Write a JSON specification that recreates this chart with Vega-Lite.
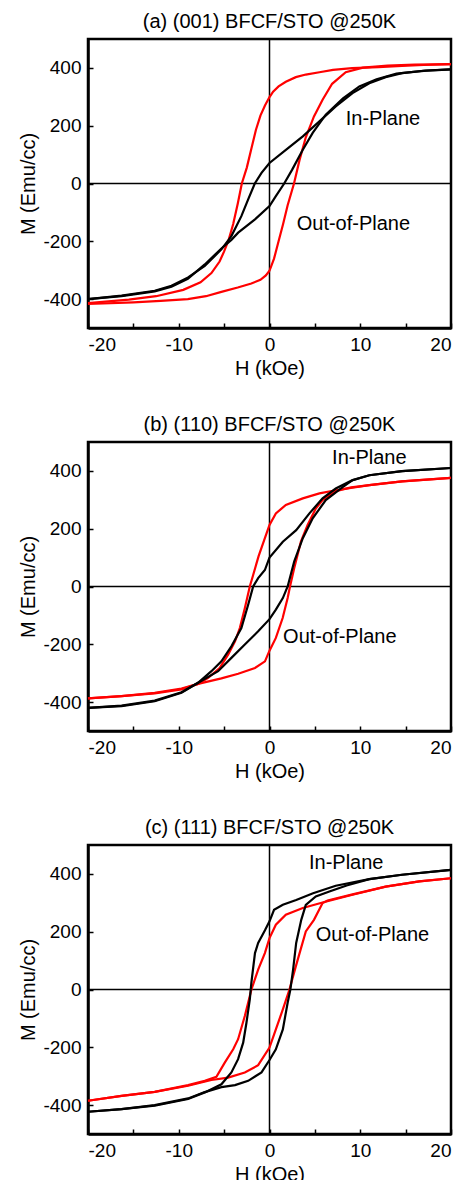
{
  "$schema": "https://vega.github.io/schema/vega-lite/v6.json",
  "background": "white",
  "padding": {"left": 17, "top": 11, "right": 5, "bottom": 0},
  "config": {
    "font": "Liberation Sans",
    "view": {"stroke": "black", "strokeWidth": 2.5},
    "axis": {
      "domainColor": "black", "domainWidth": 2.5,
      "tickColor": "black", "tickWidth": 1.5, "tickSize": -5,
      "labelFontSize": 19, "labelColor": "black", "labelPadding": 12,
      "titleFontSize": 20, "titleFontWeight": "normal", "titleColor": "black",
      "grid": false
    },
    "title": {"fontSize": 20, "fontWeight": "normal", "color": "black", "offset": 6},
    "concat": {"spacing": 34}
  },
  "datasets": {
    "a": [
      {"s":"OOP","b":"d","H":20,"M":413},{"s":"OOP","b":"d","H":17,"M":410},{"s":"OOP","b":"d","H":14.6,"M":407},{"s":"OOP","b":"d","H":12,"M":403},{"s":"OOP","b":"d","H":9.1,"M":399},{"s":"OOP","b":"d","H":7,"M":393},{"s":"OOP","b":"d","H":5.5,"M":385},{"s":"OOP","b":"d","H":4,"M":377},{"s":"OOP","b":"d","H":2.9,"M":368},{"s":"OOP","b":"d","H":1.8,"M":352},{"s":"OOP","b":"d","H":1,"M":336},{"s":"OOP","b":"d","H":0.4,"M":318},{"s":"OOP","b":"d","H":0,"M":299},{"s":"OOP","b":"d","H":-0.5,"M":270},{"s":"OOP","b":"d","H":-1,"M":235},{"s":"OOP","b":"d","H":-1.5,"M":185},{"s":"OOP","b":"d","H":-2,"M":120},{"s":"OOP","b":"d","H":-2.5,"M":55},{"s":"OOP","b":"d","H":-3.05,"M":0},{"s":"OOP","b":"d","H":-3.5,"M":-70},{"s":"OOP","b":"d","H":-4,"M":-140},{"s":"OOP","b":"d","H":-4.5,"M":-195},{"s":"OOP","b":"d","H":-5,"M":-235},{"s":"OOP","b":"d","H":-5.5,"M":-270},{"s":"OOP","b":"d","H":-6.4,"M":-310},{"s":"OOP","b":"d","H":-7.6,"M":-342},{"s":"OOP","b":"d","H":-9.5,"M":-368},{"s":"OOP","b":"d","H":-12.5,"M":-390},{"s":"OOP","b":"d","H":-15.5,"M":-402},{"s":"OOP","b":"d","H":-20,"M":-414},
      {"s":"OOP","b":"u","H":-20,"M":-417},{"s":"OOP","b":"u","H":-15,"M":-411},{"s":"OOP","b":"u","H":-12,"M":-406},{"s":"OOP","b":"u","H":-9,"M":-400},{"s":"OOP","b":"u","H":-7,"M":-390},{"s":"OOP","b":"u","H":-5.3,"M":-375},{"s":"OOP","b":"u","H":-3.5,"M":-360},{"s":"OOP","b":"u","H":-2,"M":-346},{"s":"OOP","b":"u","H":-1,"M":-333},{"s":"OOP","b":"u","H":-0.4,"M":-318},{"s":"OOP","b":"u","H":0,"M":-302},{"s":"OOP","b":"u","H":0.5,"M":-260},{"s":"OOP","b":"u","H":1,"M":-200},{"s":"OOP","b":"u","H":1.5,"M":-140},{"s":"OOP","b":"u","H":2,"M":-75},{"s":"OOP","b":"u","H":2.7,"M":0},{"s":"OOP","b":"u","H":3.3,"M":80},{"s":"OOP","b":"u","H":4,"M":160},{"s":"OOP","b":"u","H":4.9,"M":232},{"s":"OOP","b":"u","H":5.85,"M":290},{"s":"OOP","b":"u","H":6.9,"M":345},{"s":"OOP","b":"u","H":8.4,"M":385},{"s":"OOP","b":"u","H":10.3,"M":401},{"s":"OOP","b":"u","H":13,"M":408},{"s":"OOP","b":"u","H":16,"M":411},{"s":"OOP","b":"u","H":20,"M":413},
      {"s":"IP","b":"d","H":20,"M":395},{"s":"IP","b":"d","H":17.2,"M":391},{"s":"IP","b":"d","H":14.6,"M":382},{"s":"IP","b":"d","H":12.8,"M":368},{"s":"IP","b":"d","H":11,"M":347},{"s":"IP","b":"d","H":9.15,"M":313},{"s":"IP","b":"d","H":7.3,"M":267},{"s":"IP","b":"d","H":5.5,"M":215},{"s":"IP","b":"d","H":3.67,"M":163},{"s":"IP","b":"d","H":1.84,"M":117},{"s":"IP","b":"d","H":0,"M":71},{"s":"IP","b":"d","H":-0.88,"M":37},{"s":"IP","b":"d","H":-1.62,"M":0},{"s":"IP","b":"d","H":-2.35,"M":-55},{"s":"IP","b":"d","H":-3.1,"M":-113},{"s":"IP","b":"d","H":-4.2,"M":-182},{"s":"IP","b":"d","H":-5.3,"M":-228},{"s":"IP","b":"d","H":-7.13,"M":-285},{"s":"IP","b":"d","H":-8.97,"M":-325},{"s":"IP","b":"d","H":-10.8,"M":-354},{"s":"IP","b":"d","H":-12.65,"M":-371},{"s":"IP","b":"d","H":-16.3,"M":-388},{"s":"IP","b":"d","H":-20,"M":-400},
      {"s":"IP","b":"u","H":-20,"M":-400},{"s":"IP","b":"u","H":-16.3,"M":-390},{"s":"IP","b":"u","H":-12.65,"M":-373},{"s":"IP","b":"u","H":-10.8,"M":-357},{"s":"IP","b":"u","H":-9,"M":-330},{"s":"IP","b":"u","H":-7.13,"M":-280},{"s":"IP","b":"u","H":-5.3,"M":-225},{"s":"IP","b":"u","H":-4.2,"M":-195},{"s":"IP","b":"u","H":-3.45,"M":-170},{"s":"IP","b":"u","H":-1.6,"M":-124},{"s":"IP","b":"u","H":0,"M":-78},{"s":"IP","b":"u","H":0.7,"M":-44},{"s":"IP","b":"u","H":1.62,"M":0},{"s":"IP","b":"u","H":2.5,"M":48},{"s":"IP","b":"u","H":3.67,"M":117},{"s":"IP","b":"u","H":4.76,"M":175},{"s":"IP","b":"u","H":6.2,"M":238},{"s":"IP","b":"u","H":8.1,"M":295},{"s":"IP","b":"u","H":9.9,"M":336},{"s":"IP","b":"u","H":11.8,"M":361},{"s":"IP","b":"u","H":14,"M":380},{"s":"IP","b":"u","H":17,"M":390},{"s":"IP","b":"u","H":20,"M":395}
    ],
    "b": [
      {"s":"OOP","b":"d","H":20,"M":376},{"s":"OOP","b":"d","H":14.6,"M":364},{"s":"OOP","b":"d","H":11,"M":351},{"s":"OOP","b":"d","H":7.3,"M":333},{"s":"OOP","b":"d","H":5.5,"M":322},{"s":"OOP","b":"d","H":3.67,"M":305},{"s":"OOP","b":"d","H":1.8,"M":282},{"s":"OOP","b":"d","H":0.7,"M":253},{"s":"OOP","b":"d","H":0,"M":213},{"s":"OOP","b":"d","H":-0.51,"M":167},{"s":"OOP","b":"d","H":-1.2,"M":105},{"s":"OOP","b":"d","H":-1.8,"M":40},{"s":"OOP","b":"d","H":-2.17,"M":0},{"s":"OOP","b":"d","H":-2.72,"M":-75},{"s":"OOP","b":"d","H":-3.27,"M":-144},{"s":"OOP","b":"d","H":-3.8,"M":-190},{"s":"OOP","b":"d","H":-4.56,"M":-236},{"s":"OOP","b":"d","H":-5.5,"M":-282},{"s":"OOP","b":"d","H":-6.76,"M":-316},{"s":"OOP","b":"d","H":-7.87,"M":-337},{"s":"OOP","b":"d","H":-9.7,"M":-356},{"s":"OOP","b":"d","H":-12.65,"M":-370},{"s":"OOP","b":"d","H":-16.3,"M":-379},{"s":"OOP","b":"d","H":-20,"M":-387},
      {"s":"OOP","b":"u","H":-20,"M":-387},{"s":"OOP","b":"u","H":-16.3,"M":-379},{"s":"OOP","b":"u","H":-12.65,"M":-368},{"s":"OOP","b":"u","H":-9.7,"M":-353},{"s":"OOP","b":"u","H":-7.87,"M":-337},{"s":"OOP","b":"u","H":-5.3,"M":-318},{"s":"OOP","b":"u","H":-3.45,"M":-302},{"s":"OOP","b":"u","H":-1.6,"M":-282},{"s":"OOP","b":"u","H":-0.5,"M":-259},{"s":"OOP","b":"u","H":0,"M":-222},{"s":"OOP","b":"u","H":0.7,"M":-178},{"s":"OOP","b":"u","H":1.45,"M":-109},{"s":"OOP","b":"u","H":2,"M":-40},{"s":"OOP","b":"u","H":2.26,"M":0},{"s":"OOP","b":"u","H":2.72,"M":63},{"s":"OOP","b":"u","H":3.46,"M":155},{"s":"OOP","b":"u","H":4.2,"M":213},{"s":"OOP","b":"u","H":5.1,"M":270},{"s":"OOP","b":"u","H":5.85,"M":299},{"s":"OOP","b":"u","H":7.3,"M":330},{"s":"OOP","b":"u","H":9,"M":343},{"s":"OOP","b":"u","H":11,"M":351},{"s":"OOP","b":"u","H":14.6,"M":364},{"s":"OOP","b":"u","H":20,"M":376},
      {"s":"IP","b":"d","H":20,"M":410},{"s":"IP","b":"d","H":14.6,"M":399},{"s":"IP","b":"d","H":11,"M":385},{"s":"IP","b":"d","H":9.15,"M":368},{"s":"IP","b":"d","H":7.3,"M":339},{"s":"IP","b":"d","H":5.85,"M":305},{"s":"IP","b":"d","H":4.4,"M":253},{"s":"IP","b":"d","H":2.94,"M":195},{"s":"IP","b":"d","H":1.47,"M":155},{"s":"IP","b":"d","H":0,"M":100},{"s":"IP","b":"d","H":-0.51,"M":57},{"s":"IP","b":"d","H":-1.25,"M":29},{"s":"IP","b":"d","H":-1.8,"M":0},{"s":"IP","b":"d","H":-2.35,"M":-63},{"s":"IP","b":"d","H":-3.1,"M":-144},{"s":"IP","b":"d","H":-4.2,"M":-207},{"s":"IP","b":"d","H":-5.3,"M":-259},{"s":"IP","b":"d","H":-6.4,"M":-293},{"s":"IP","b":"d","H":-7.87,"M":-333},{"s":"IP","b":"d","H":-9.7,"M":-368},{"s":"IP","b":"d","H":-12.65,"M":-397},{"s":"IP","b":"d","H":-16.3,"M":-414},{"s":"IP","b":"d","H":-20,"M":-420},
      {"s":"IP","b":"u","H":-20,"M":-420},{"s":"IP","b":"u","H":-16.3,"M":-412},{"s":"IP","b":"u","H":-12.65,"M":-395},{"s":"IP","b":"u","H":-9.7,"M":-366},{"s":"IP","b":"u","H":-7.87,"M":-333},{"s":"IP","b":"u","H":-5.66,"M":-293},{"s":"IP","b":"u","H":-4.2,"M":-247},{"s":"IP","b":"u","H":-2.72,"M":-201},{"s":"IP","b":"u","H":-1.25,"M":-155},{"s":"IP","b":"u","H":0,"M":-113},{"s":"IP","b":"u","H":0.7,"M":-80},{"s":"IP","b":"u","H":1.47,"M":-40},{"s":"IP","b":"u","H":2,"M":0},{"s":"IP","b":"u","H":2.72,"M":86},{"s":"IP","b":"u","H":3.67,"M":167},{"s":"IP","b":"u","H":4.76,"M":236},{"s":"IP","b":"u","H":6.2,"M":299},{"s":"IP","b":"u","H":8.1,"M":345},{"s":"IP","b":"u","H":9.15,"M":368},{"s":"IP","b":"u","H":11,"M":385},{"s":"IP","b":"u","H":14.6,"M":399},{"s":"IP","b":"u","H":20,"M":410}
    ],
    "c": [
      {"s":"OOP","b":"d","H":20,"M":385},{"s":"OOP","b":"d","H":16.5,"M":374},{"s":"OOP","b":"d","H":12.8,"M":356},{"s":"OOP","b":"d","H":9.15,"M":328},{"s":"OOP","b":"d","H":5.85,"M":301},{"s":"OOP","b":"d","H":3.67,"M":282},{"s":"OOP","b":"d","H":1.8,"M":259},{"s":"OOP","b":"d","H":0.7,"M":224},{"s":"OOP","b":"d","H":0,"M":178},{"s":"OOP","b":"d","H":-0.51,"M":126},{"s":"OOP","b":"d","H":-1.25,"M":69},{"s":"OOP","b":"d","H":-1.99,"M":0},{"s":"OOP","b":"d","H":-2.72,"M":-92},{"s":"OOP","b":"d","H":-3.46,"M":-172},{"s":"OOP","b":"d","H":-4,"M":-207},{"s":"OOP","b":"d","H":-4.93,"M":-253},{"s":"OOP","b":"d","H":-5.85,"M":-302},{"s":"OOP","b":"d","H":-7.13,"M":-316},{"s":"OOP","b":"d","H":-8.97,"M":-331},{"s":"OOP","b":"d","H":-12.65,"M":-354},{"s":"OOP","b":"d","H":-16.3,"M":-368},{"s":"OOP","b":"d","H":-20,"M":-385},
      {"s":"OOP","b":"u","H":-20,"M":-385},{"s":"OOP","b":"u","H":-16.3,"M":-368},{"s":"OOP","b":"u","H":-12.65,"M":-354},{"s":"OOP","b":"u","H":-8.97,"M":-333},{"s":"OOP","b":"u","H":-6.4,"M":-313},{"s":"OOP","b":"u","H":-4.56,"M":-305},{"s":"OOP","b":"u","H":-2.72,"M":-287},{"s":"OOP","b":"u","H":-1.25,"M":-262},{"s":"OOP","b":"u","H":0,"M":-201},{"s":"OOP","b":"u","H":0.7,"M":-138},{"s":"OOP","b":"u","H":1.47,"M":-69},{"s":"OOP","b":"u","H":2.2,"M":0},{"s":"OOP","b":"u","H":2.9,"M":80},{"s":"OOP","b":"u","H":4,"M":201},{"s":"OOP","b":"u","H":4.9,"M":241},{"s":"OOP","b":"u","H":5.85,"M":299},{"s":"OOP","b":"u","H":6.4,"M":308},{"s":"OOP","b":"u","H":9.15,"M":329},{"s":"OOP","b":"u","H":12.8,"M":356},{"s":"OOP","b":"u","H":16.5,"M":374},{"s":"OOP","b":"u","H":20,"M":385},
      {"s":"IP","b":"d","H":20,"M":414},{"s":"IP","b":"d","H":14.6,"M":397},{"s":"IP","b":"d","H":11,"M":382},{"s":"IP","b":"d","H":7.3,"M":359},{"s":"IP","b":"d","H":4.8,"M":333},{"s":"IP","b":"d","H":2.94,"M":310},{"s":"IP","b":"d","H":1.47,"M":293},{"s":"IP","b":"d","H":0.5,"M":276},{"s":"IP","b":"d","H":0,"M":236},{"s":"IP","b":"d","H":-0.5,"M":205},{"s":"IP","b":"d","H":-1.25,"M":161},{"s":"IP","b":"d","H":-1.6,"M":126},{"s":"IP","b":"d","H":-2,"M":23},{"s":"IP","b":"d","H":-2.17,"M":-34},{"s":"IP","b":"d","H":-2.54,"M":-115},{"s":"IP","b":"d","H":-2.9,"M":-184},{"s":"IP","b":"d","H":-3.46,"M":-241},{"s":"IP","b":"d","H":-4.2,"M":-287},{"s":"IP","b":"d","H":-5.3,"M":-328},{"s":"IP","b":"d","H":-7.13,"M":-356},{"s":"IP","b":"d","H":-8.97,"M":-379},{"s":"IP","b":"d","H":-12.65,"M":-402},{"s":"IP","b":"d","H":-16.3,"M":-414},{"s":"IP","b":"d","H":-20,"M":-423},
      {"s":"IP","b":"u","H":-20,"M":-423},{"s":"IP","b":"u","H":-16.3,"M":-414},{"s":"IP","b":"u","H":-12.65,"M":-400},{"s":"IP","b":"u","H":-8.97,"M":-377},{"s":"IP","b":"u","H":-7.13,"M":-355},{"s":"IP","b":"u","H":-5.3,"M":-338},{"s":"IP","b":"u","H":-3.8,"M":-331},{"s":"IP","b":"u","H":-2.35,"M":-316},{"s":"IP","b":"u","H":-0.88,"M":-287},{"s":"IP","b":"u","H":0,"M":-244},{"s":"IP","b":"u","H":0.7,"M":-207},{"s":"IP","b":"u","H":1.47,"M":-138},{"s":"IP","b":"u","H":2,"M":-46},{"s":"IP","b":"u","H":2.3,"M":0},{"s":"IP","b":"u","H":2.6,"M":69},{"s":"IP","b":"u","H":2.94,"M":161},{"s":"IP","b":"u","H":3.5,"M":241},{"s":"IP","b":"u","H":4,"M":293},{"s":"IP","b":"u","H":5.1,"M":322},{"s":"IP","b":"u","H":6.6,"M":339},{"s":"IP","b":"u","H":8.5,"M":360},{"s":"IP","b":"u","H":11,"M":382},{"s":"IP","b":"u","H":14.6,"M":397},{"s":"IP","b":"u","H":20,"M":414}
    ],
    "zero": [{"H": 0, "M": 0}]
  },
  "vconcat": [
    {
      "width": 363, "height": 289,
      "title": "(a) (001) BFCF/STO @250K",
      "layer": [
        {"data": {"name": "zero"}, "mark": {"type": "rule", "color": "black", "strokeWidth": 1.5},
         "encoding": {"x": {"field": "H", "type": "quantitative", "scale": {"domain": [-20, 20], "nice": false}, "axis": {"title": "H (kOe)", "values": [-20,-15,-10,-5,0,5,10,15,20], "labelExpr": "datum.value % 10 === 0 ? '' + datum.value : ''"}}}},
        {"data": {"name": "zero"}, "mark": {"type": "rule", "color": "black", "strokeWidth": 1.5},
         "encoding": {"y": {"field": "M", "type": "quantitative", "scale": {"domain": [-500, 500], "nice": false}, "axis": {"title": "M (Emu/cc)", "values": [-400,-300,-200,-100,0,100,200,300,400], "labelExpr": "datum.value % 200 === 0 ? '' + datum.value : ''"}}}},
        {"data": {"name": "a"}, "mark": {"type": "line", "strokeWidth": 2.2},
         "encoding": {
           "x": {"field": "H", "type": "quantitative"},
           "y": {"field": "M", "type": "quantitative"},
           "color": {"field": "s", "type": "nominal", "scale": {"domain": ["IP", "OOP"], "range": ["#000000", "#ff0000"]}, "legend": null},
           "detail": {"field": "b"}
         }},
        {"data": {"values": [{"H": 8.4, "M": 223, "t": "In-Plane"}, {"H": 3.0, "M": -141, "t": "Out-of-Plane"}]},
         "mark": {"type": "text", "align": "left", "baseline": "middle", "fontSize": 20, "color": "black"},
         "encoding": {"x": {"field": "H", "type": "quantitative"}, "y": {"field": "M", "type": "quantitative"}, "text": {"field": "t"}}}
      ]
    },
    {
      "width": 363, "height": 289,
      "title": "(b) (110) BFCF/STO @250K",
      "layer": [
        {"data": {"name": "zero"}, "mark": {"type": "rule", "color": "black", "strokeWidth": 1.5},
         "encoding": {"x": {"field": "H", "type": "quantitative", "scale": {"domain": [-20, 20], "nice": false}, "axis": {"title": "H (kOe)", "values": [-20,-15,-10,-5,0,5,10,15,20], "labelExpr": "datum.value % 10 === 0 ? '' + datum.value : ''"}}}},
        {"data": {"name": "zero"}, "mark": {"type": "rule", "color": "black", "strokeWidth": 1.5},
         "encoding": {"y": {"field": "M", "type": "quantitative", "scale": {"domain": [-500, 500], "nice": false}, "axis": {"title": "M (Emu/cc)", "values": [-400,-300,-200,-100,0,100,200,300,400], "labelExpr": "datum.value % 200 === 0 ? '' + datum.value : ''"}}}},
        {"data": {"name": "b"}, "mark": {"type": "line", "strokeWidth": 2.2},
         "encoding": {
           "x": {"field": "H", "type": "quantitative"},
           "y": {"field": "M", "type": "quantitative"},
           "color": {"field": "s", "type": "nominal", "scale": {"domain": ["IP", "OOP"], "range": ["#000000", "#ff0000"]}, "legend": null},
           "detail": {"field": "b"}
         }},
        {"data": {"values": [{"H": 6.9, "M": 444, "t": "In-Plane"}, {"H": 1.5, "M": -174, "t": "Out-of-Plane"}]},
         "mark": {"type": "text", "align": "left", "baseline": "middle", "fontSize": 20, "color": "black"},
         "encoding": {"x": {"field": "H", "type": "quantitative"}, "y": {"field": "M", "type": "quantitative"}, "text": {"field": "t"}}}
      ]
    },
    {
      "width": 363, "height": 289,
      "title": "(c) (111) BFCF/STO @250K",
      "layer": [
        {"data": {"name": "zero"}, "mark": {"type": "rule", "color": "black", "strokeWidth": 1.5},
         "encoding": {"x": {"field": "H", "type": "quantitative", "scale": {"domain": [-20, 20], "nice": false}, "axis": {"title": "H (kOe)", "values": [-20,-15,-10,-5,0,5,10,15,20], "labelExpr": "datum.value % 10 === 0 ? '' + datum.value : ''"}}}},
        {"data": {"name": "zero"}, "mark": {"type": "rule", "color": "black", "strokeWidth": 1.5},
         "encoding": {"y": {"field": "M", "type": "quantitative", "scale": {"domain": [-500, 500], "nice": false}, "axis": {"title": "M (Emu/cc)", "values": [-400,-300,-200,-100,0,100,200,300,400], "labelExpr": "datum.value % 200 === 0 ? '' + datum.value : ''"}}}},
        {"data": {"name": "c"}, "mark": {"type": "line", "strokeWidth": 2.2},
         "encoding": {
           "x": {"field": "H", "type": "quantitative"},
           "y": {"field": "M", "type": "quantitative"},
           "color": {"field": "s", "type": "nominal", "scale": {"domain": ["IP", "OOP"], "range": ["#000000", "#ff0000"]}, "legend": null},
           "detail": {"field": "b"}
         }},
        {"data": {"values": [{"H": 4.35, "M": 437, "t": "In-Plane"}, {"H": 5.1, "M": 190, "t": "Out-of-Plane"}]},
         "mark": {"type": "text", "align": "left", "baseline": "middle", "fontSize": 20, "color": "black"},
         "encoding": {"x": {"field": "H", "type": "quantitative"}, "y": {"field": "M", "type": "quantitative"}, "text": {"field": "t"}}}
      ]
    }
  ]
}
